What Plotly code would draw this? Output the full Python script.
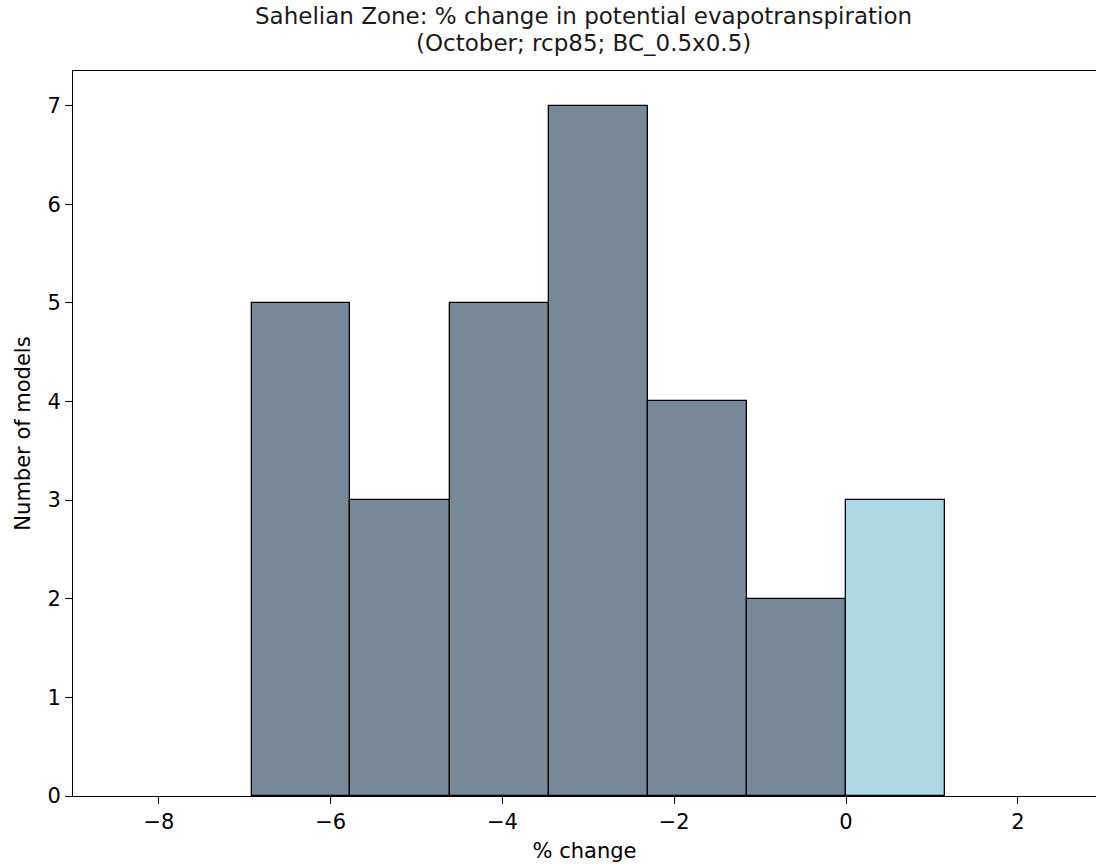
import plotly.graph_objects as go

# Data
bin_edges = [-6.92, -5.77, -4.61, -3.46, -2.31, -1.15, 0.0, 1.15]
counts = [5, 3, 5, 7, 4, 2, 3]
x_ticks = [-8, -6, -4, -2, 0, 2]
y_ticks = [0, 1, 2, 3, 4, 5, 6, 7]

title_line1 = "Sahelian Zone: % change in potential evapotranspiration"
title_line2 = "(October; rcp85; BC_0.5x0.5)"

centers = [(a + b) / 2 for a, b in zip(bin_edges[:-1], bin_edges[1:])]
widths = [b - a for a, b in zip(bin_edges[:-1], bin_edges[1:])]
colors = ["#ADD8E6" if a >= 0 else "#778899" for a in bin_edges[:-1]]

fig = go.Figure()
fig.add_trace(go.Bar(
    x=centers, y=counts, width=widths,
    marker=dict(color=colors, line=dict(color="black", width=1.3)),
    hoverinfo="x+y",
))

font_family = "DejaVu Sans"
H, T, B = 865, 71, 69
plot_h = H - T - B


def paper_y(px):
    return (H - B - px) / plot_h


title_font = dict(size=23, family=font_family, color="#1a1a1a")
fig.update_layout(
    width=1096, height=H,
    margin=dict(l=73, r=0, t=T, b=B),
    paper_bgcolor="white", plot_bgcolor="white",
    showlegend=False,
    font=dict(family=font_family, color="black", size=21),
    bargap=0,
    annotations=[
        dict(text=title_line1, xref="paper", yref="paper", x=0.4995, y=paper_y(16),
             xanchor="center", yanchor="middle", showarrow=False, font=title_font),
        dict(text=title_line2, xref="paper", yref="paper", x=0.4995, y=paper_y(43),
             xanchor="center", yanchor="middle", showarrow=False, font=title_font),
    ],
)
fig.update_xaxes(
    range=[-9.0, 2.91], tickvals=x_ticks,
    ticktext=[("\u2212" + str(abs(v))) if v < 0 else str(v) for v in x_ticks],
    showline=True, linecolor="black", linewidth=1.1, mirror=True,
    ticks="outside", ticklen=7, tickcolor="black", tickwidth=1.1,
    showgrid=False, zeroline=False,
    tickfont=dict(size=21),
    title=dict(text="% change", font=dict(size=21), standoff=10),
)
fig.update_yaxes(
    range=[0, 7.35], tickvals=y_ticks,
    showline=True, linecolor="black", linewidth=1.1,
    ticks="outside", ticklen=7, tickcolor="black", tickwidth=1.1,
    showgrid=False, zeroline=False,
    tickfont=dict(size=21),
    title=dict(text="Number of models", font=dict(size=21), standoff=11),
)

fig.write_html(
    "out.html",
    config={"displayModeBar": False},
    post_script="document.body.style.margin='0';document.body.style.overflow='hidden';",
)
